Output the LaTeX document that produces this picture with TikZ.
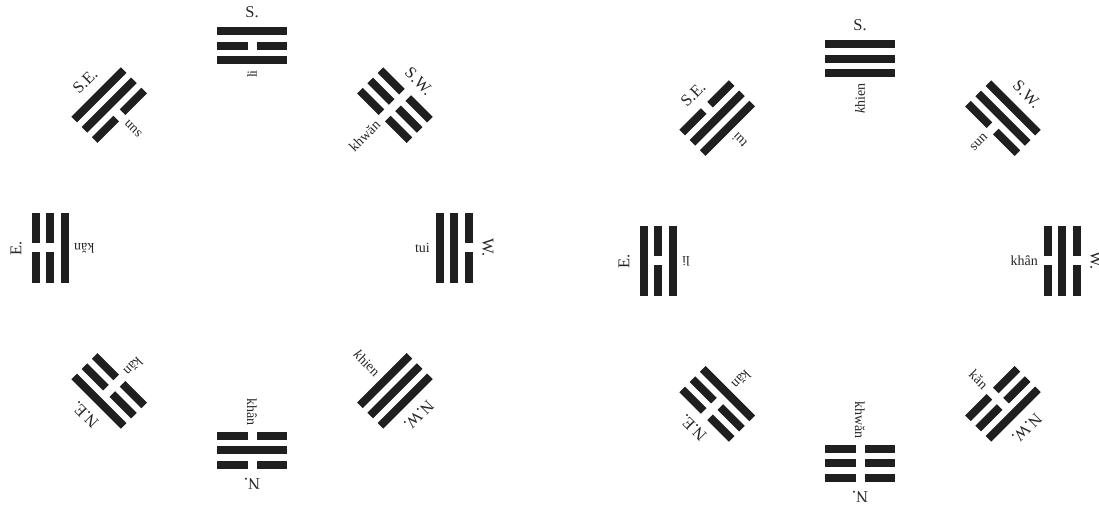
\documentclass[tikz,border=0pt]{standalone}
\usepackage{fontspec}
\setmainfont{Liberation Serif}

% one trigram with its two labels: centre, angle, direction, name, lines (inner to outer), id
\newcommand{\gua}[8]{%
  \coordinate (#8) at ([shift={(#2:202)}]#1);
  \begin{scope}[shift={(#8)}, rotate=#2-90]
    \foreach \yao/\yy in {#5/-14.5,#6/0,#7/14.5}{
      \ifnum\yao=1
        \fill[yaobar] (-35,\yy-4) rectangle (35,\yy+4);
      \else
        \fill[yaobar] (-35,\yy-4) rectangle (-4.5,\yy+4);
        \fill[yaobar] (4.5,\yy-4) rectangle (35,\yy+4);
      \fi}
  \end{scope}
  \node[dirlab, rotate=#2-90] (#8-dir) at ([shift={(#2:236)}]#1) {#3};
  \node[namelab, rotate=#2, anchor=east] (#8-name) at ([shift={(#2:178)}]#1) {#4};
}

\begin{document}
\begin{tikzpicture}[
    x=1pt, y=1pt,
    yaobar/.style={fill=black!88},
    dirlab/.style={inner sep=0pt, text=black!85, font=\fontsize{16.5}{16.5}\selectfont},
    namelab/.style={inner sep=0pt, text=black!85, font=\fontsize{14}{14}\selectfont}
]
\useasboundingbox (0,0) rectangle (1099,506);

\coordinate (later) at (252,258);
\coordinate (earlier) at (860,245);

% left circle
\gua{later}{90}{S.}{li}{1}{0}{1}{L-s}
\gua{later}{135}{S.E.}{sun}{0}{1}{1}{L-se}
\gua{later}{45}{S.W.}{khwăn}{0}{0}{0}{L-sw}
\gua{later}{180}{E.}{kăn}{1}{0}{0}{L-e}
\gua{later}{0}{W.}{tui}{1}{1}{0}{L-w}
\gua{later}{225}{N.E.}{kăn}{0}{0}{1}{L-ne}
\gua{later}{270}{N.}{khân}{0}{1}{0}{L-n}
\gua{later}{315}{N.W.}{\textit{k}hien}{1}{1}{1}{L-nw}

% right circle
\gua{earlier}{90}{S.}{\textit{k}hien}{1}{1}{1}{R-s}
\gua{earlier}{135}{S.E.}{tui}{1}{1}{0}{R-se}
\gua{earlier}{45}{S.W.}{sun}{0}{1}{1}{R-sw}
\gua{earlier}{180}{E.}{li}{1}{0}{1}{R-e}
\gua{earlier}{0}{W.}{khân}{0}{1}{0}{R-w}
\gua{earlier}{225}{N.E.}{kăn}{1}{0}{0}{R-ne}
\gua{earlier}{270}{N.}{khwăn}{0}{0}{0}{R-n}
\gua{earlier}{315}{N.W.}{kăn}{0}{0}{1}{R-nw}

\end{tikzpicture}
\end{document}
